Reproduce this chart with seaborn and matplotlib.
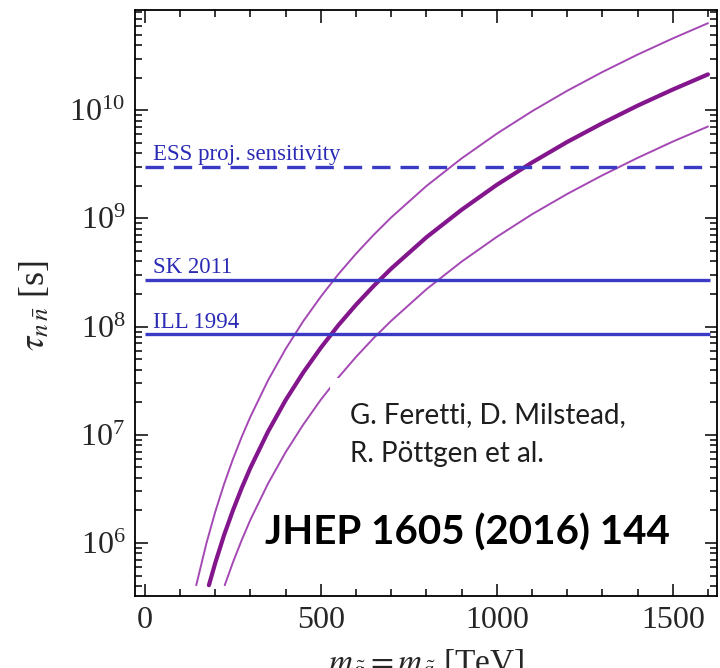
"""
plot.py
-------
n-nbar oscillation lifetime vs squark/gluino mass, with experimental limits.
Output: out.png
"""

import pandas as pd
import matplotlib
matplotlib.use("Agg")
import matplotlib.pyplot as plt
import matplotlib.ticker as mtick
from matplotlib.patches import Rectangle
import seaborn as sns

# ---------------------------------------------------------------------------
# Data
# ---------------------------------------------------------------------------

M_UPPER = [146, 175, 200, 225, 250, 275, 300, 350, 400, 450, 500, 550, 600,
           650, 700, 800, 900, 1000, 1100, 1200, 1300, 1400, 1500, 1600]
TAU_UPPER = [4.07e5, 9.95e5, 1.94e6, 3.49e6, 5.92e6, 9.53e6, 1.47e7, 3.18e7,
             6.21e7, 1.12e8, 1.89e8, 3.05e8, 4.71e8, 7.03e8, 1.02e9, 1.99e9,
             3.58e9, 6.06e9, 9.76e9, 1.51e10, 2.25e10, 3.26e10, 4.60e10, 6.36e10]

M_CENTRAL = [182, 200, 225, 250, 275, 300, 350, 400, 450, 500, 550, 600,
             650, 700, 800, 900, 1000, 1100, 1200, 1300, 1400, 1500, 1600]
TAU_CENTRAL = [4.07e5, 6.53e5, 1.18e6, 1.99e6, 3.21e6, 4.96e6, 1.07e7, 2.09e7,
               3.76e7, 6.37e7, 1.03e8, 1.59e8, 2.37e8, 3.43e8, 6.68e8, 1.20e9,
               2.04e9, 3.28e9, 5.08e9, 7.57e9, 1.10e10, 1.55e10, 2.14e10]

M_LOWER = [227, 250, 275, 300, 350, 400, 450, 500, 550, 600, 650, 700,
           800, 900, 1000, 1100, 1200, 1300, 1400, 1500, 1600]
TAU_LOWER = [4.07e5, 6.58e5, 1.06e6, 1.64e6, 3.54e6, 6.90e6, 1.24e7, 2.11e7,
             3.39e7, 5.24e7, 7.82e7, 1.13e8, 2.21e8, 3.98e8, 6.74e8, 1.09e9,
             1.68e9, 2.50e9, 3.62e9, 5.12e9, 7.06e9]

LIMIT_NAMES = ["ESS proj. sensitivity", "SK 2011", "ILL 1994"]
LIMIT_VALUES = [3.0e9, 2.7e8, 8.6e7]
LIMIT_DASHED = [True, False, False]
LIMIT_LABEL_Y = [3.45e9, 3.12e8, 9.7e7]

LINE_X_MIN, LINE_X_MAX = 0, 1605
X_TICKS = [0, 500, 1000, 1500]

# ---------------------------------------------------------------------------
# Style
# ---------------------------------------------------------------------------

PURPLE_THICK = "#83168c"
PURPLE_THIN = "#a448b4"
BLUE = "#3a3ac4"
BLUE_TEXT = "#2a2ab4"

sns.set_theme(style="ticks")
plt.rcParams["font.family"] = ["Liberation Serif", "DejaVu Serif"]
plt.rcParams["mathtext.fontset"] = "stix"

fig = plt.figure(figsize=(7.2, 6.68), dpi=100)
ax = fig.add_axes([0.1875, 0.1078, 0.808, 0.877])

# ---------------------------------------------------------------------------
# Curves
# ---------------------------------------------------------------------------

curves = [
    (M_UPPER, TAU_UPPER, PURPLE_THIN, 1.4),
    (M_CENTRAL, TAU_CENTRAL, PURPLE_THICK, 3.0),
    (M_LOWER, TAU_LOWER, PURPLE_THIN, 1.4),
]
for m, tau, color, lw in curves:
    df = pd.DataFrame({"m": m, "tau": tau})
    sns.lineplot(data=df, x="m", y="tau", ax=ax, color=color, linewidth=lw,
                 sort=False, zorder=2)

# Experimental limits
for name, val, dashed, ly in zip(LIMIT_NAMES, LIMIT_VALUES, LIMIT_DASHED, LIMIT_LABEL_Y):
    ax.hlines(val, LINE_X_MIN, LINE_X_MAX, color=BLUE, linewidth=2.4,
              linestyles=(0, (5.5, 3)) if dashed else "solid", zorder=2.2)
    ax.text(23, ly, name, color=BLUE_TEXT, fontsize=16.5, va="baseline", ha="left")

# White box behind the author annotation
ax.add_patch(Rectangle((0.335, 0.2), 0.61, 0.172, transform=ax.transAxes,
                       facecolor="white", edgecolor="none", zorder=3))
ax.text(0.369, 0.295, "G. Feretti, D. Milstead,", transform=ax.transAxes,
        family="Lato", fontsize=20, color="#1e1e1e", va="baseline", zorder=4)
ax.text(0.369, 0.2287, "R. Pöttgen et al.", transform=ax.transAxes,
        family="Lato", fontsize=20, color="#1e1e1e", va="baseline", zorder=4)
ax.text(0.2234, 0.087, "JHEP 1605 (2016) 144", transform=ax.transAxes,
        family="Lato", fontweight="bold", fontsize=29, color="black",
        va="baseline", zorder=4)

# ---------------------------------------------------------------------------
# Axes
# ---------------------------------------------------------------------------

ax.set_yscale("log")
ax.set_xlim(-28, 1625)
ax.set_ylim(10 ** 5.51, 10 ** 10.924)

ax.set_xticks(X_TICKS)
ax.xaxis.set_minor_locator(mtick.MultipleLocator(100))
ax.yaxis.set_major_locator(mtick.LogLocator(base=10, numticks=10))
ax.yaxis.set_minor_locator(mtick.LogLocator(base=10, subs=range(2, 10), numticks=20))
ax.yaxis.set_minor_formatter(mtick.NullFormatter())

ax.tick_params(which="both", direction="in", top=True, right=True,
               color="black", width=1.1)
ax.tick_params(which="major", length=9, labelsize=23, pad=7)
ax.tick_params(which="minor", length=5)
for sp in ax.spines.values():
    sp.set_color("black")
    sp.set_linewidth(1.3)

ax.set_xlabel("")
ax.set_ylabel("")

fig.text(0.049, 0.542, r"$\tau_{n\,\bar{n}}$ [s]", rotation=90,
         fontsize=26, ha="center", va="center")
# x label sits mostly below the canvas edge, as in the reference crop
fig.text(0.592, -0.006, r"$m_{\tilde{g}} = m_{\tilde{q}}$ [TeV]",
         fontsize=24, ha="center", va="baseline")

fig.savefig("out.png", dpi=100)
